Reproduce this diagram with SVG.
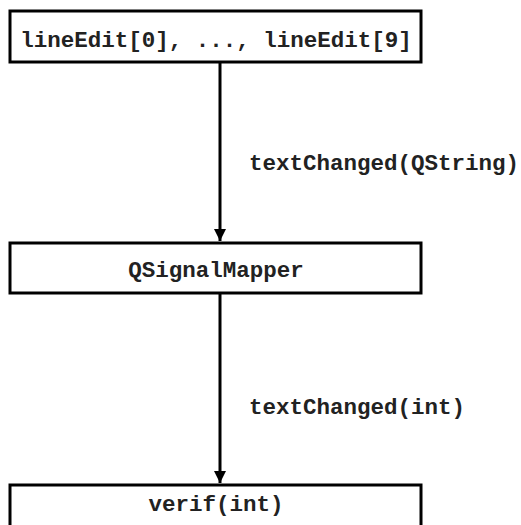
<svg xmlns="http://www.w3.org/2000/svg" width="521" height="525" viewBox="0 0 521 525">
<style>
.box{fill:#fff;stroke:#000;stroke-width:3}
.t{font-family:"Liberation Mono","Courier New",monospace;font-weight:bold;font-size:22.5px;fill:#222}
.c{stroke:#000;stroke-width:3;fill:none}
</style>
<defs>
<marker id="ah" markerWidth="12" markerHeight="12" refX="12" refY="6" orient="auto" markerUnits="userSpaceOnUse">
<path d="M0,0 L12,6 L0,12 Z" fill="#000"/>
</marker>
</defs>
<rect width="521" height="525" fill="#fff"/>
<g id="connectors">
<line class="c" x1="220" y1="62" x2="220" y2="241" marker-end="url(#ah)"/>
<line class="c" x1="220" y1="293" x2="220" y2="483" marker-end="url(#ah)"/>
<text class="t" x="249" y="170">textChanged(QString)</text>
<text class="t" x="249" y="414">textChanged(int)</text>
</g>
<g id="n1">
<rect class="box" x="10" y="11" width="411" height="51"/>
<text class="t" x="216" y="47" text-anchor="middle">lineEdit[0], ..., lineEdit[9]</text>
</g>
<g id="n2">
<rect class="box" x="10" y="243" width="411" height="50"/>
<text class="t" x="216" y="277" text-anchor="middle">QSignalMapper</text>
</g>
<g id="n3">
<rect class="box" x="10" y="485" width="411" height="60"/>
<text class="t" x="216" y="511" text-anchor="middle">verif(int)</text>
</g>
</svg>
